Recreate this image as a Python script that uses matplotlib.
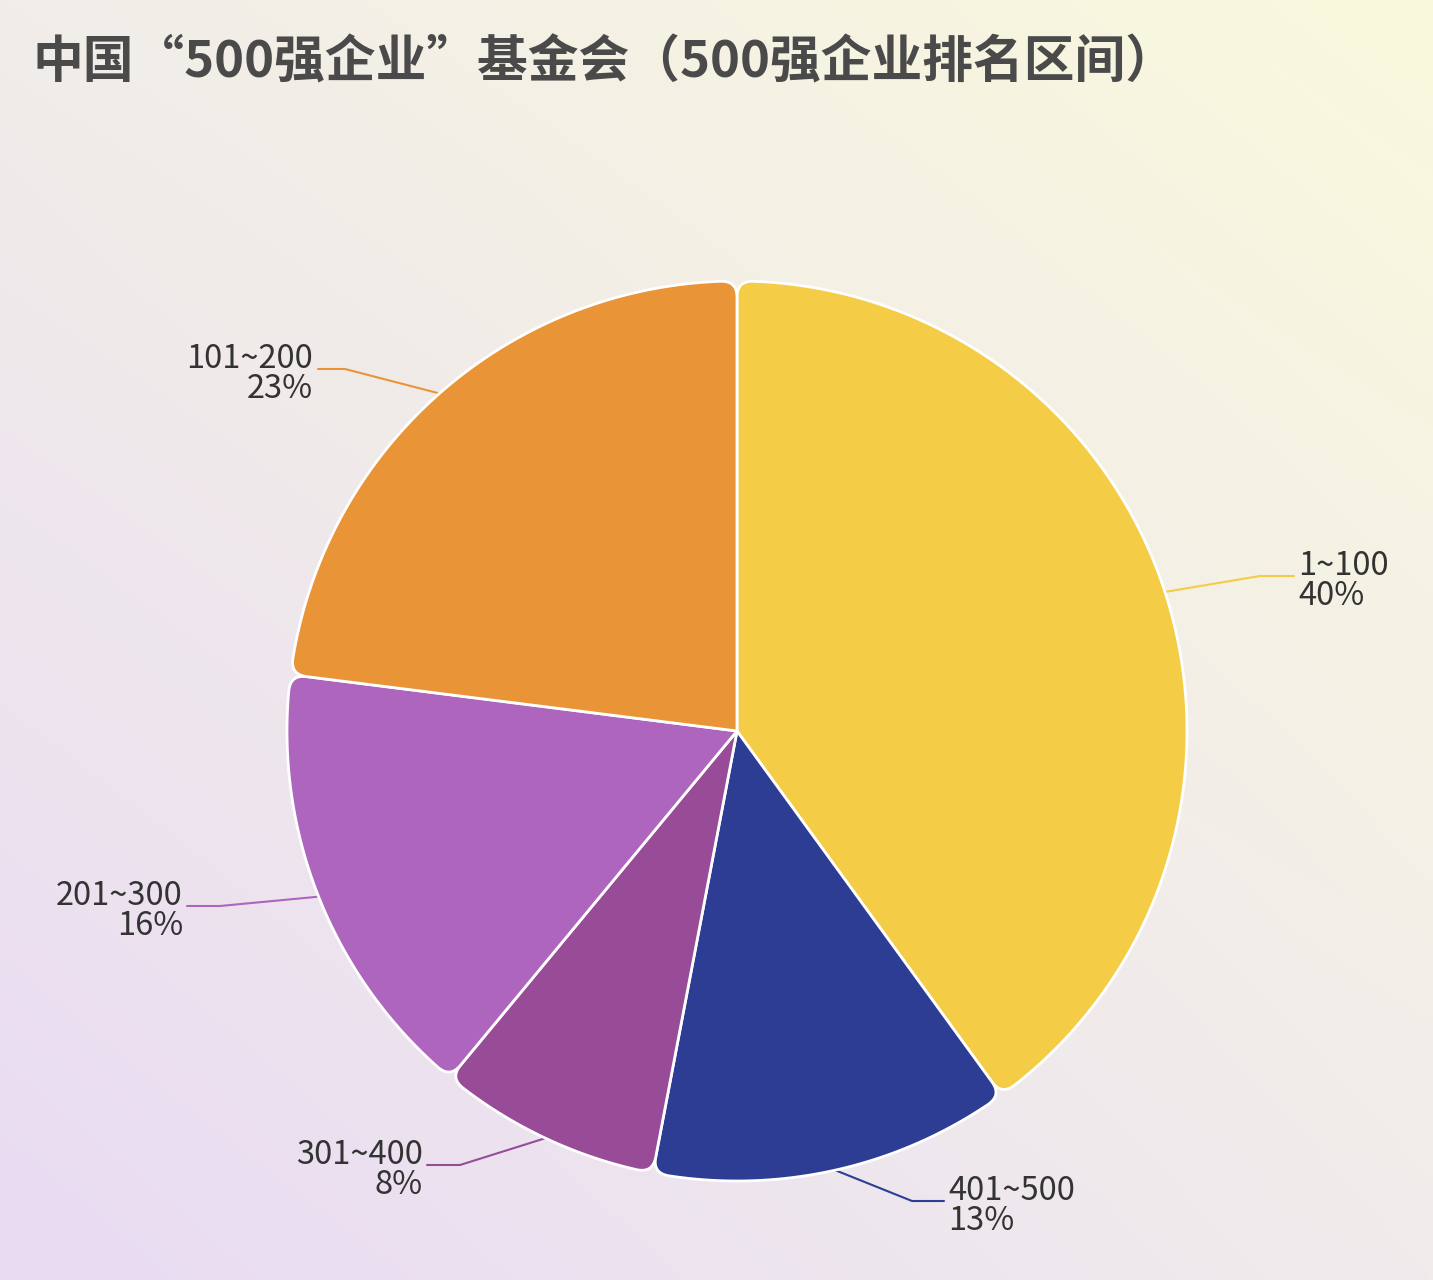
import numpy as np
import matplotlib
matplotlib.use("Agg")
import matplotlib.pyplot as plt
from matplotlib.path import Path
from matplotlib.patches import PathPatch

plt.rcParams['font.family'] = ['Noto Sans CJK SC', 'DejaVu Sans']

# ---- data ----
categories = ["1~100", "401~500", "301~400", "201~300", "101~200"]
values = [40, 13, 8, 16, 23]
colors = ["#F4CC45", "#2C3D93", "#984B97", "#AE65BE", "#E99537"]
title = "中国“500强企业”基金会（500强企业排名区间）"

W, H = 1433, 1280
fig = plt.figure(figsize=(W / 100, H / 100), dpi=100)
ax = fig.add_axes([0, 0, 1, 1])
ax.set_xlim(0, W)
ax.set_ylim(H, 0)
ax.axis('off')

# background gradient (bilinear over corners)
tl = np.array([241, 237, 233]) / 255
tr = np.array([250, 249, 221]) / 255
bl = np.array([233, 219, 243]) / 255
br = np.array([240, 236, 236]) / 255
u = np.linspace(0, 1, 200)[None, :, None]
v = np.linspace(0, 1, 200)[:, None, None]
bg = (1 - u) * (1 - v) * tl + u * (1 - v) * tr + (1 - u) * v * bl + u * v * br
ax.imshow(bg, extent=[0, W, H, 0], aspect='auto', zorder=0, interpolation='bilinear')

cx, cy, R = 737, 731, 450
rc = 16  # corner radius


def pt(theta, r):
    # theta: degrees clockwise from 12 o'clock
    t = np.radians(theta)
    return (cx + r * np.sin(t), cy - r * np.cos(t))


def wedge_path(a1, a2):
    da = np.degrees(rc / R)
    verts, codes = [], []
    verts.append((cx, cy)); codes.append(Path.MOVETO)
    verts.append(pt(a1, R - rc)); codes.append(Path.LINETO)
    verts.append(pt(a1, R)); codes.append(Path.CURVE3)
    verts.append(pt(a1 + da, R)); codes.append(Path.CURVE3)
    for th in np.linspace(a1 + da, a2 - da, 120)[1:]:
        verts.append(pt(th, R)); codes.append(Path.LINETO)
    verts.append(pt(a2, R)); codes.append(Path.CURVE3)
    verts.append(pt(a2, R - rc)); codes.append(Path.CURVE3)
    verts.append((cx, cy)); codes.append(Path.LINETO)
    verts.append((cx, cy)); codes.append(Path.CLOSEPOLY)
    return Path(verts, codes)


total = sum(values)
start = 0.0
mids = []
for val, col in zip(values, colors):
    span = 360.0 * val / total
    p = wedge_path(start, start + span)
    ax.add_patch(PathPatch(p, facecolor=col, edgecolor='white', lw=2, zorder=2, joinstyle='round'))
    mids.append(start + span / 2)
    start += span

# labels with leader lines
label_cfg = [
    # (knee x, end x, text x, ha)
    (1260, 1294, 1298, 'left'),
    (912, 944, 948, 'left'),
    (460, 427, 423, 'right'),
    (220, 187, 183, 'right'),
    (345, 318, 313, 'right'),
]
label_y = [576, 1201, 1165, 906, 369]
for cat, val, col, mid, (kx, ex, tx, ha), ly in zip(categories, values, colors, mids, label_cfg, label_y):
    x0, y0 = pt(mid, R)
    ax.plot([x0, kx, ex], [y0, ly, ly], color=col, lw=1.5, zorder=1, solid_capstyle='round')
    ax.text(tx, ly + 5, f"{cat}\n{val}%", ha=ha, va='center', fontsize=23.5, color='#333333',
            fontweight='light', linespacing=0.92, zorder=3, multialignment=ha)

ax.text(33, 63, title, ha='left', va='center', fontsize=36.5, fontweight='heavy', color='#4a4a4a', zorder=3)

fig.savefig("out.png", dpi=100)
